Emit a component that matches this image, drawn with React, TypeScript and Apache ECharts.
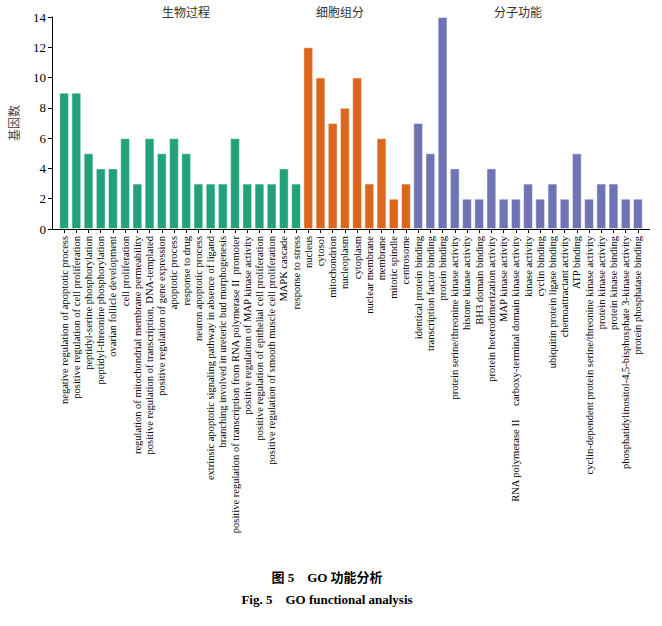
import React, { useEffect, useRef } from "react";
import * as echarts from "echarts";

const bpNames = [
  "negative regulation of apoptotic process",
  "positive regulation of cell proliferation",
  "peptidyl-serine phosphorylation",
  "peptidyl-threonine phosphorylation",
  "ovarian follicle development",
  "cell proliferation",
  "regulation of mitochondrial membrane permeability",
  "positive regulation of transcription, DNA-templated",
  "positive regulation of gene expression",
  "apoptotic process",
  "response to drug",
  "neuron apoptotic process",
  "extrinsic apoptotic signaling pathway in absence of ligand",
  "branching involved in ureteric bud morphogenesis",
  "positive regulation of transcription from RNA polymerase II  promoter",
  "positive regulation of MAP kinase activity",
  "positive regulation of epithelial cell proliferation",
  "positive regulation of smooth muscle cell proliferation",
  "MAPK cascade",
  "response to stress",
];
const bpValues = [9, 9, 5, 4, 4, 6, 3, 6, 5, 6, 5, 3, 3, 3, 6, 3, 3, 3, 4, 3];

const ccNames = [
  "nucleus",
  "cytosol",
  "mitochondrion",
  "nucleoplasm",
  "cytoplasm",
  "nuclear membrane",
  "membrane",
  "mitotic spindle",
  "centrosome",
];
const ccValues = [12, 10, 7, 8, 10, 3, 6, 2, 3];

const mfNames = [
  "identical protein binding",
  "transcription factor binding",
  "protein binding",
  "protein serine/threonine kinase activity",
  "histone kinase activity",
  "BH3 domain binding",
  "protein heterodimerization activity",
  "MAP kinase activity",
  "RNA polymerase II　 carboxy-terminal domain kinase activity",
  "kinase activity",
  "cyclin binding",
  "ubiquitin protein ligase binding",
  "chemoattractant activity",
  "ATP binding",
  "cyclin-dependent protein serine/threonine kinase activity",
  "protein kinase activity",
  "protein kinase binding",
  "phosphatidylinositol-4,5-bisphosphate 3-kinase activity",
  "protein phosphatase binding",
];
const mfValues = [7, 5, 14, 4, 2, 2, 4, 2, 2, 3, 2, 3, 2, 5, 2, 3, 3, 2, 2];

const groupTitles = ["生物过程", "细胞组分", "分子功能"];
const groupColors = ["#21a27b", "#dc661b", "#6e74b4"];
const yTicks = { min: 0, max: 14, interval: 2 };
const yName = "基因数";
const captionCn = "图 5　GO 功能分析";
const captionEn = "Fig. 5　GO functional analysis";

export default function App() {
  const ref = useRef<HTMLDivElement>(null);
  useEffect(() => {
    if (!ref.current) return;
    const chart = echarts.init(ref.current, null, { renderer: "svg" });
    const categories = [...bpNames, ...ccNames, ...mfNames];
    const groups = [bpValues, ccValues, mfValues];
    const data: any[] = [];
    groups.forEach((vals, gi) => {
      vals.forEach((v) => {
        data.push({
          value: v,
          itemStyle: {
            color: groupColors[gi],
            borderColor: "rgba(255,255,255,0.45)",
            borderWidth: 1,
          },
        });
      });
    });
    const serif = "'Liberation Serif', 'Times New Roman', serif";
    const cjk = "'Noto Sans CJK SC', sans-serif";
    const capFont = "'Liberation Serif', 'Noto Sans CJK SC', serif";
    const gridLeft = 58;
    const gridRight = 18;
    const gridTop = 17;
    const gridBottom = 397;
    const axisY = 626 - gridBottom;
    chart.setOption({
      animation: false,
      backgroundColor: "#ffffff",
      grid: {
        left: gridLeft,
        right: gridRight,
        top: gridTop,
        bottom: gridBottom,
        containLabel: false,
        outerBoundsMode: "none",
      },
      xAxis: {
        type: "category",
        data: categories,
        axisLine: { show: false },
        axisTick: { show: true, alignWithLabel: true, length: 4, lineStyle: { color: "#000" } },
        axisLabel: {
          interval: 0,
          rotate: 90,
          margin: 7,
          fontSize: 10.5,
          fontFamily: serif,
          color: "#000",
        },
      },
      yAxis: {
        type: "value",
        min: yTicks.min,
        max: yTicks.max,
        interval: yTicks.interval,
        offset: 6,
        name: yName,
        nameLocation: "middle",
        nameRotate: 90,
        nameGap: 33,
        nameTextStyle: { fontFamily: cjk, fontSize: 12, color: "#444" },
        axisLine: { show: true, lineStyle: { color: "#000" } },
        axisTick: { show: true, length: 4, lineStyle: { color: "#000" } },
        splitLine: { show: false },
        axisLabel: { fontSize: 13, fontFamily: serif, color: "#000", margin: 6 },
      },
      series: [
        {
          type: "bar",
          data,
          barCategoryGap: "20%",
        },
      ],
      graphic: [
        {
          type: "line",
          shape: { x1: gridLeft - 6, y1: axisY + 0.5, x2: 662 - gridRight + 6, y2: axisY + 0.5 },
          style: { stroke: "#000", lineWidth: 1 },
        },
        {
          type: "text",
          x: 186,
          y: 11,
          style: { text: groupTitles[0], font: `12px ${cjk}`, fill: "#333", textAlign: "center", textVerticalAlign: "middle" },
        },
        {
          type: "text",
          x: 340,
          y: 11,
          style: { text: groupTitles[1], font: `12px ${cjk}`, fill: "#333", textAlign: "center", textVerticalAlign: "middle" },
        },
        {
          type: "text",
          x: 518,
          y: 11,
          style: { text: groupTitles[2], font: `12px ${cjk}`, fill: "#333", textAlign: "center", textVerticalAlign: "middle" },
        },
        {
          type: "text",
          x: 327,
          y: 577,
          style: { text: captionCn, font: `bold 13px ${capFont}`, fill: "#000", textAlign: "center", textVerticalAlign: "middle" },
        },
        {
          type: "text",
          x: 327,
          y: 599,
          style: { text: captionEn, font: `bold 13px ${serif}`, fill: "#000", textAlign: "center", textVerticalAlign: "middle" },
        },
      ],
    });
    return () => chart.dispose();
  }, []);
  return (
    <div
      ref={ref}
      style={{ position: "absolute", left: 0, top: 0, width: 662, height: 626, background: "#fff" }}
    />
  );
}
